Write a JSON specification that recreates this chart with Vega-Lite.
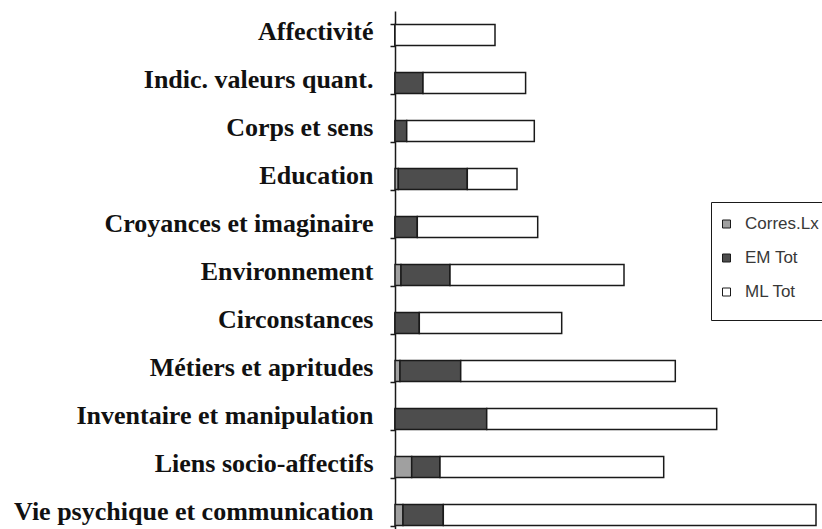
{
  "$schema": "https://vega.github.io/schema/vega-lite/v6.json",
  "width": 427,
  "height": 518,
  "autosize": {"type": "none"},
  "padding": {"left": 395, "top": 11, "right": 0, "bottom": 0},
  "background": "white",
  "config": {"view": {"stroke": null}},
  "data": {
    "values": [
      {"cat": "Affectivité", "series": "Corres.Lx", "ord": 1, "value": 0},
      {"cat": "Affectivité", "series": "EM Tot", "ord": 2, "value": 0},
      {"cat": "Affectivité", "series": "ML Tot", "ord": 3, "value": 100},
      {"cat": "Indic. valeurs quant.", "series": "Corres.Lx", "ord": 1, "value": 0},
      {"cat": "Indic. valeurs quant.", "series": "EM Tot", "ord": 2, "value": 28},
      {"cat": "Indic. valeurs quant.", "series": "ML Tot", "ord": 3, "value": 102.6},
      {"cat": "Corps et sens\u00a0", "series": "Corres.Lx", "ord": 1, "value": 0},
      {"cat": "Corps et sens\u00a0", "series": "EM Tot", "ord": 2, "value": 11.7},
      {"cat": "Corps et sens\u00a0", "series": "ML Tot", "ord": 3, "value": 127.6},
      {"cat": "Education", "series": "Corres.Lx", "ord": 1, "value": 3.3},
      {"cat": "Education", "series": "EM Tot", "ord": 2, "value": 69},
      {"cat": "Education", "series": "ML Tot", "ord": 3, "value": 49.7},
      {"cat": "Croyances et imaginaire\u00a0", "series": "Corres.Lx", "ord": 1, "value": 0},
      {"cat": "Croyances et imaginaire\u00a0", "series": "EM Tot", "ord": 2, "value": 22.3},
      {"cat": "Croyances et imaginaire\u00a0", "series": "ML Tot", "ord": 3, "value": 120.4},
      {"cat": "Environnement", "series": "Corres.Lx", "ord": 1, "value": 6},
      {"cat": "Environnement", "series": "EM Tot", "ord": 2, "value": 49},
      {"cat": "Environnement", "series": "ML Tot", "ord": 3, "value": 174},
      {"cat": "Circonstances", "series": "Corres.Lx", "ord": 1, "value": 0},
      {"cat": "Circonstances", "series": "EM Tot", "ord": 2, "value": 24.3},
      {"cat": "Circonstances", "series": "ML Tot", "ord": 3, "value": 142.4},
      {"cat": "Métiers et apritudes", "series": "Corres.Lx", "ord": 1, "value": 5},
      {"cat": "Métiers et apritudes", "series": "EM Tot", "ord": 2, "value": 60.7},
      {"cat": "Métiers et apritudes", "series": "ML Tot", "ord": 3, "value": 214.6},
      {"cat": "Inventaire et manipulation\u00a0", "series": "Corres.Lx", "ord": 1, "value": 0},
      {"cat": "Inventaire et manipulation\u00a0", "series": "EM Tot", "ord": 2, "value": 91.7},
      {"cat": "Inventaire et manipulation\u00a0", "series": "ML Tot", "ord": 3, "value": 230},
      {"cat": "Liens socio-affectifs", "series": "Corres.Lx", "ord": 1, "value": 16.7},
      {"cat": "Liens socio-affectifs", "series": "EM Tot", "ord": 2, "value": 28.3},
      {"cat": "Liens socio-affectifs", "series": "ML Tot", "ord": 3, "value": 223.7},
      {"cat": "Vie psychique et communication", "series": "Corres.Lx", "ord": 1, "value": 8},
      {"cat": "Vie psychique et communication", "series": "EM Tot", "ord": 2, "value": 40.3},
      {"cat": "Vie psychique et communication", "series": "ML Tot", "ord": 3, "value": 372.7}
    ]
  },
  "mark": {"type": "bar", "stroke": "#1a1a1a", "strokeWidth": 1.5},
  "encoding": {
    "y": {
      "field": "cat",
      "type": "nominal",
      "sort": null,
      "scale": {"range": [0, 528], "paddingInner": 0.56, "paddingOuter": 0.28},
      "axis": {
        "title": null,
        "tickBand": "extent",
        "tickSize": 5,
        "tickColor": "#1a1a1a",
        "tickWidth": 1.5,
        "domainColor": "#1a1a1a",
        "domainWidth": 1.5,
        "labelFont": "Liberation Serif",
        "labelFontWeight": "bold",
        "labelFontSize": 26,
        "labelColor": "#111111",
        "labelLimit": 0,
        "labelPadding": 17,
        "labelOffset": -4
      }
    },
    "x": {
      "field": "value",
      "type": "quantitative",
      "stack": "zero",
      "scale": {"domain": [0, 427], "nice": false},
      "axis": null
    },
    "color": {
      "field": "series",
      "type": "nominal",
      "scale": {"domain": ["Corres.Lx", "EM Tot", "ML Tot"], "range": ["#a0a0a0", "#4d4d4d", "#ffffff"]},
      "legend": {
        "orient": "none",
        "legendX": 316,
        "legendY": 191,
        "title": " ",
        "titleOrient": "bottom",
        "titleFontSize": 6,
        "titlePadding": 0,
        "strokeColor": "#1a1a1a",
        "fillColor": "white",
        "padding": 7,
        "clipHeight": 30,
        "symbolType": "square",
        "symbolSize": 64,
        "symbolStrokeColor": "#1a1a1a",
        "symbolStrokeWidth": 1,
        "labelFont": "Liberation Sans",
        "labelFontSize": 17,
        "labelColor": "#383838",
        "labelOffset": 10,
        "rowPadding": 4
      }
    },
    "order": {"field": "ord", "type": "quantitative"}
  }
}
